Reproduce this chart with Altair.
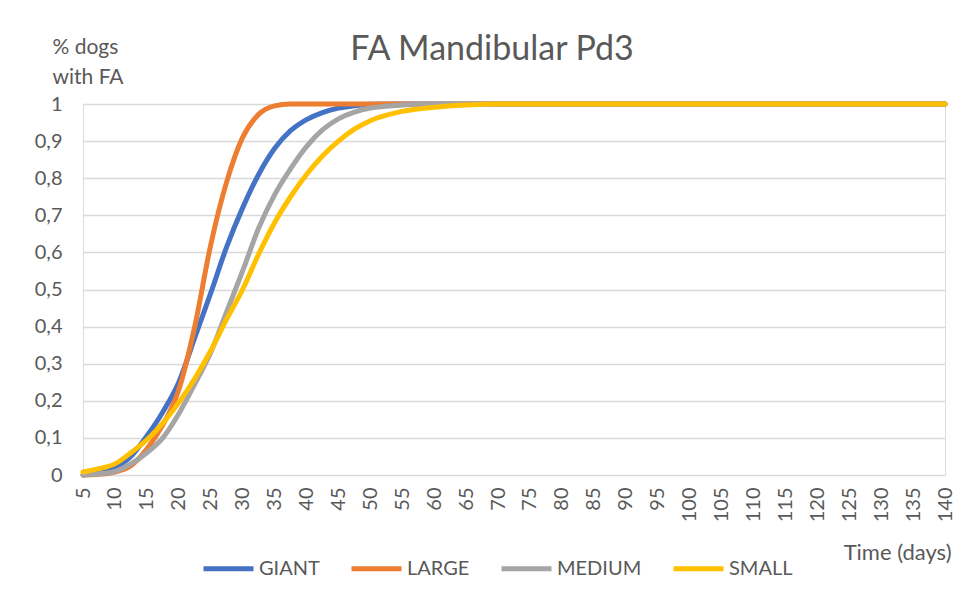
import altair as alt
import pandas as pd

days = [5, 7.5, 10, 12.5, 15, 17.5, 20, 22.5, 25, 27.5, 30, 32.5, 35, 37.5, 40,
        42.5, 45, 47.5, 50, 55, 60, 65, 70, 75, 80, 85, 90, 95, 100, 105, 110,
        115, 120, 125, 130, 135, 140]

giant = [0.0, 0.006, 0.02, 0.05, 0.105, 0.17, 0.25, 0.37, 0.49, 0.615, 0.72, 0.81,
         0.88, 0.928, 0.958, 0.977, 0.989, 0.995, 0.999, 1.0, 1.0, 1.0, 1.0, 1.0, 1.0,
         1.0, 1.0, 1.0, 1.0, 1.0, 1.0, 1.0, 1.0, 1.0, 1.0, 1.0, 1.0]
large = [0.0, 0.002, 0.008, 0.025, 0.07, 0.135, 0.23, 0.40, 0.62, 0.79, 0.91, 0.972,
         0.995, 1.0, 1.0, 1.0, 1.0, 1.0, 1.0, 1.0, 1.0, 1.0, 1.0, 1.0, 1.0,
         1.0, 1.0, 1.0, 1.0, 1.0, 1.0, 1.0, 1.0, 1.0, 1.0, 1.0, 1.0]
medium = [0.0, 0.003, 0.01, 0.03, 0.06, 0.10, 0.165, 0.245, 0.33, 0.44, 0.55, 0.665,
          0.755, 0.825, 0.885, 0.93, 0.96, 0.978, 0.989, 0.997, 1.0, 1.0, 1.0, 1.0, 1.0,
          1.0, 1.0, 1.0, 1.0, 1.0, 1.0, 1.0, 1.0, 1.0, 1.0, 1.0, 1.0]
small = [0.008, 0.017, 0.03, 0.06, 0.095, 0.14, 0.195, 0.26, 0.335, 0.42, 0.5, 0.595,
         0.68, 0.75, 0.81, 0.86, 0.9, 0.932, 0.955, 0.98, 0.991, 0.997, 1.0, 1.0, 1.0,
         1.0, 1.0, 1.0, 1.0, 1.0, 1.0, 1.0, 1.0, 1.0, 1.0, 1.0, 1.0]

series_names = ["GIANT", "LARGE", "MEDIUM", "SMALL"]
series_colors = ["#4472C4", "#ED7D31", "#A5A5A5", "#FFC000"]
x_ticks = list(range(5, 145, 5))
y_ticks = [0, 0.1, 0.2, 0.3, 0.4, 0.5, 0.6, 0.7, 0.8, 0.9, 1]

rows = []
for name, vals in zip(series_names, [giant, large, medium, small]):
    for d, v in zip(days, vals):
        rows.append({"day": d, "value": v, "breed": name})
df = pd.DataFrame(rows)

FONT = "Lato"
TXT = "#595959"

chart = alt.Chart(df).mark_line(
    strokeWidth=5, interpolate="monotone", strokeCap="round"
).encode(
    x=alt.X("day:Q",
            scale=alt.Scale(domain=[5, 140], nice=False, zero=False),
            axis=alt.Axis(values=x_ticks, labelAngle=270, grid=False, domain=False,
                          ticks=False, labelPadding=12, labelFontSize=20,
                          labelColor=TXT, labelFont=FONT,
                          title="Time (days)", titleFont=FONT, titleFontSize=22,
                          titleFontWeight="normal", titleColor=TXT,
                          titleAlign="right", titleBaseline="middle",
                          titleX=868, titleY=77, titleAngle=0)),
    y=alt.Y("value:Q",
            scale=alt.Scale(domain=[0, 1], nice=False),
            axis=alt.Axis(values=y_ticks,
                          labelExpr="replace(toString(datum.value), '.', ',')",
                          grid=True, gridColor="#D9D9D9", gridWidth=1.5,
                          domain=False, ticks=False, labelPadding=21,
                          labelFontSize=20, labelColor=TXT, labelFont=FONT,
                          title=["% dogs", "with FA"], titleAngle=0,
                          titleFont=FONT, titleFontSize=21, titleFontWeight="normal",
                          titleColor=TXT, titleAlign="left", titleBaseline="top",
                          titleX=-31, titleY=-68, titleLineHeight=30)),
    color=alt.Color("breed:N",
                    scale=alt.Scale(domain=series_names, range=series_colors),
                    legend=alt.Legend(orient="none", legendX=118, legendY=437,
                                      direction="horizontal", title=None,
                                      symbolType="stroke", symbolSize=2500,
                                      symbolStrokeWidth=5, labelFontSize=20,
                                      labelFont=FONT, labelColor=TXT,
                                      columnPadding=21, labelOffset=3)),
).properties(
    width=862, height=371,
    title=alt.TitleParams("FA Mandibular Pd3", font=FONT, fontSize=34,
                          fontWeight="normal", color=TXT, anchor="middle",
                          dx=-22, offset=-31),
    autosize=alt.AutoSizeParams(type="none"),
    padding={"left": 75, "top": 96, "right": 11, "bottom": 120},
).configure_view(stroke=None).configure(background="white")

chart.save("out.html", embed_options={"renderer": "svg", "actions": False})
